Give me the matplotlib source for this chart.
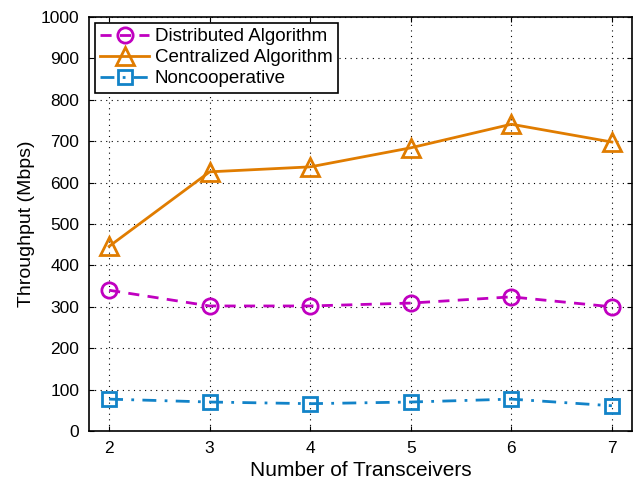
import matplotlib
matplotlib.use("Agg")
from matplotlib import pyplot as plt

plt.rcParams['font.family'] = ['Liberation Sans', 'DejaVu Sans']

transceivers = [2, 3, 4, 5, 6, 7]
distributed = [340, 302, 302, 309, 324, 300]
centralized = [446, 626, 638, 684, 741, 698]
noncoop = [77, 70, 66, 70, 77, 61]

magenta = '#c000c0'
orange = '#e07c00'
blue = '#1283c8'

fig = plt.figure(figsize=(6.38, 4.86), dpi=100)
ax = fig.add_axes([89/638, 1 - 431/486, (632-89)/638, (431-17)/486])

ax.plot(transceivers, distributed, '--o', color=magenta, lw=2, ms=11,
        mfc='none', mew=2, label='Distributed Algorithm', dashes=(4, 3))
ax.plot(transceivers, centralized, '-^', color=orange, lw=2, ms=13,
        mfc='none', mew=2, label='Centralized Algorithm')
ax.plot(transceivers, noncoop, '-.s', color=blue, lw=2, ms=10,
        mfc='none', mew=2, label='Noncooperative', dashes=(5, 3, 1, 3))

ax.set_xlim(1.8, 7.2)
ax.set_ylim(0, 1000)
ax.set_xticks(transceivers)
ax.set_yticks(range(0, 1001, 100))
ax.tick_params(direction='in', labelsize=12.5, top=True, right=True, pad=7)
ax.grid(True, linestyle=(0, (1, 4)), color='black', lw=0.8)
ax.set_xlabel('Number of Transceivers', fontsize=15)
ax.set_ylabel('Throughput (Mbps)', fontsize=14)
for s in ax.spines.values():
    s.set_linewidth(1.2)

leg = ax.legend(loc='upper left', fontsize=13.5, fancybox=False, edgecolor='black',
                framealpha=1, handlelength=2.6, borderaxespad=0.3,
                labelspacing=0.2, borderpad=0.3, handletextpad=0.3)
leg.get_frame().set_linewidth(1.2)

plt.savefig('out.png', dpi=100)
